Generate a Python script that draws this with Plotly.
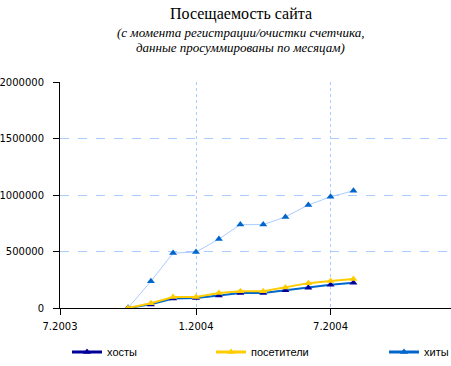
import plotly.graph_objects as go

months = ["2003-10-01", "2003-11-01", "2003-12-01", "2004-01-01", "2004-02-01", "2004-03-01",
          "2004-04-01", "2004-05-01", "2004-06-01", "2004-07-01", "2004-08-01"]
hosts = [0, 32000, 84000, 88000, 110000, 132000, 132000, 158000, 180000, 205000, 224000]
visitors = [0, 42000, 97000, 98000, 132000, 148000, 148000, 182000, 220000, 238000, 256000]
hits = [0, 237000, 486000, 495000, 610000, 738000, 738000, 806000, 912000, 984000, 1037000]

x_tickvals = ["2003-07-01", "2004-01-01", "2004-07-01"]
x_ticktext = ["7.2003", "1.2004", "7.2004"]
y_tickvals = [0, 500000, 1000000, 1500000, 2000000]
y_ticktext = ["0", "500000", "1000000", "1500000", "2000000"]

W, H = 451, 366
L, R, T, B = 60, 0, 82, 58
PW, PH = W - L - R, H - T - B


def px(xp):
    return (xp - L) / PW


def py(yp):
    return (H - B - yp) / PH


font_ticks = dict(family="DejaVu Sans", size=10, color="black")
fig = go.Figure()

fig.add_trace(go.Scatter(x=months, y=hits, mode="lines+markers", name="хиты",
                         line=dict(color="#aaccff", width=1),
                         marker=dict(symbol="triangle-up", size=7, color="#0066cc"),
                         showlegend=False))
fig.add_trace(go.Scatter(x=months, y=hosts, mode="lines+markers", name="хосты",
                         line=dict(color="#0066cc", width=2),
                         marker=dict(symbol="triangle-up", size=7, color="#000099"),
                         showlegend=False))
fig.add_trace(go.Scatter(x=months, y=visitors, mode="lines+markers", name="посетители",
                         line=dict(color="#ffcc00", width=2),
                         marker=dict(symbol="triangle-up", size=7, color="#ffcc00"),
                         showlegend=False))

# legend entries
fig.add_trace(go.Scatter(x=[None], y=[None], mode="lines+markers", name="хосты",
                         line=dict(color="#000099", width=3),
                         marker=dict(symbol="triangle-up", size=7, color="#000099"),
                         legend="legend"))
fig.add_trace(go.Scatter(x=[None], y=[None], mode="lines+markers", name="посетители",
                         line=dict(color="#ffcc00", width=3),
                         marker=dict(symbol="triangle-up", size=7, color="#ffcc00"),
                         legend="legend2"))
fig.add_trace(go.Scatter(x=[None], y=[None], mode="lines+markers", name="хиты",
                         line=dict(color="#0066cc", width=3),
                         marker=dict(symbol="triangle-up", size=7, color="#0066cc"),
                         legend="legend3"))

leg_common = dict(font=dict(family="Liberation Sans", size=11, color="black"),
                  bgcolor="rgba(0,0,0,0)", yanchor="middle", xanchor="left",
                  y=py(352))

fig.update_layout(
    width=W, height=H,
    margin=dict(l=L, r=R, t=T, b=B, autoexpand=False),
    paper_bgcolor="white", plot_bgcolor="white",
    annotations=[
        dict(text="Посещаемость сайта", xref="paper", yref="paper",
             x=px(241), y=py(14), xanchor="center", yanchor="middle",
             showarrow=False, font=dict(family="Liberation Serif", size=16, color="black")),
        dict(text="<i>(с момента регистрации/очистки счетчика,</i>",
             xref="paper", yref="paper",
             x=px(240), y=py(32), xanchor="center", yanchor="middle",
             showarrow=False,
             font=dict(family="Liberation Serif", size=13, color="black")),
        dict(text="<i>данные просуммированы по месяцам)</i>",
             xref="paper", yref="paper",
             x=px(240), y=py(47), xanchor="center", yanchor="middle",
             showarrow=False,
             font=dict(family="Liberation Serif", size=13, color="black")),
    ],
    xaxis=dict(type="date", range=["2003-07-01", "2004-12-11"],
               tickvals=x_tickvals, ticktext=x_ticktext, tickfont=font_ticks,
               showgrid=True, gridcolor="#aaccff", griddash="dot", gridwidth=1,
               showline=True, linecolor="black", linewidth=1,
               ticks="outside", ticklen=6, tickcolor="black", tickwidth=1,
               ticklabelstandoff=3, zeroline=False),
    yaxis=dict(range=[0, 2000000], tickvals=y_tickvals, ticktext=y_ticktext,
               tickfont=font_ticks,
               showgrid=True, gridcolor="#aaccff", griddash="dash", gridwidth=1,
               showline=True, linecolor="black", linewidth=1,
               ticks="outside", ticklen=6, tickcolor="black", tickwidth=1,
               ticklabelstandoff=7, zeroline=False),
    legend=dict(x=px(67), **leg_common),
    legend2=dict(x=px(211), **leg_common),
    legend3=dict(x=px(384), **leg_common),
)

fig.write_html("out.html", config={"displayModeBar": False},
               post_script="document.body.style.margin='0';")
